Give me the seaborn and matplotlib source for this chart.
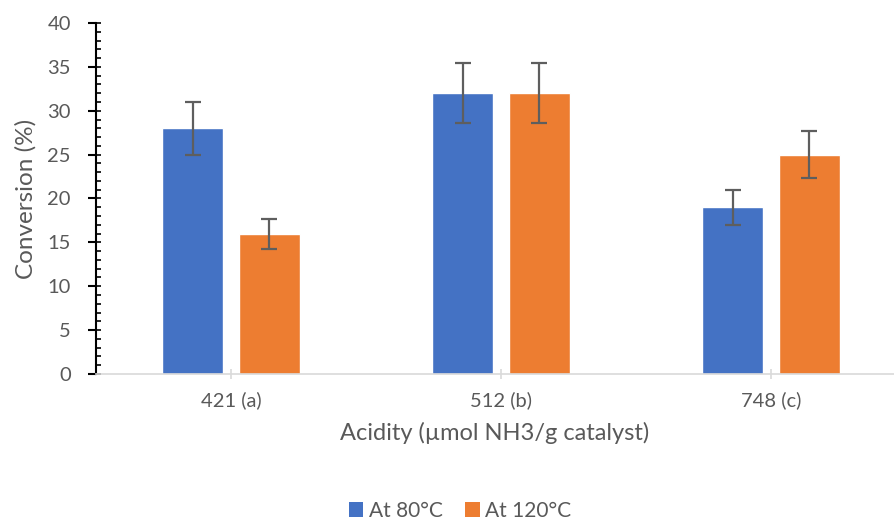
import numpy as np
import pandas as pd
import matplotlib
matplotlib.use("Agg")
import matplotlib.pyplot as plt
from matplotlib.ticker import MultipleLocator
from matplotlib.patches import Patch
import seaborn as sns

categories = ["421 (a)", "512 (b)", "748 (c)"]
series = ["At 80°C", "At 120°C"]
conv_80 = [28, 32, 19]
conv_120 = [16, 32, 25]
err_80 = [3.0, 3.4, 2.0]
err_120 = [1.7, 3.4, 2.7]

colors = ["#4472C4", "#ED7D31"]
txt = "#595959"

sns.set_theme(style="white")
plt.rcParams["font.family"] = ["Lato", "DejaVu Sans"]

df = pd.DataFrame({
    "cat": categories * 2,
    "series": [series[0]] * 3 + [series[1]] * 3,
    "val": conv_80 + conv_120,
    "err": err_80 + err_120,
})

W, H = 894, 522
fig = plt.figure(figsize=(W / 100, H / 100), dpi=100)
left, right = 96, 894
top, bottom = 23, 374
ax = fig.add_axes([left / W, (H - bottom) / H, (right - left) / W, (bottom - top) / H])

sns.barplot(data=df, x="cat", y="val", hue="series", order=categories,
            hue_order=series, palette=colors, width=0.570, gap=0.207,
            errorbar=None, saturation=1, ax=ax, legend=False)

# error bars at bar centres
for s_i, s in enumerate(series):
    cont = ax.containers[s_i]
    sub = df[df.series == s].set_index("cat").loc[categories]
    xs = [p.get_x() + p.get_width() / 2 for p in cont.patches]
    ax.errorbar(xs, sub["val"].values, yerr=sub["err"].values, fmt="none",
                ecolor="#5E5E5E", elinewidth=1.6, capsize=6, capthick=1.6, zorder=5)

ax.set_xlim(-0.5, -0.5 + (right - left) / 270)
ax.set_ylim(0, 40)
ax.yaxis.set_major_locator(MultipleLocator(5))
ax.yaxis.set_minor_locator(MultipleLocator(1))
ax.yaxis.remove_overlapping_locs = False

for sp in ["top", "right"]:
    ax.spines[sp].set_visible(False)
ax.spines["left"].set_color("black")
ax.spines["left"].set_linewidth(1.5)
ax.spines["bottom"].set_color("#D9D9D9")
ax.spines["bottom"].set_linewidth(1.2)

ax.tick_params(axis="y", which="major", direction="out", length=6, width=1.5,
               color="black", labelsize=14.5, labelcolor=txt, pad=12, left=True)
ax.tick_params(axis="y", which="minor", direction="in", length=3.5, width=1.2,
               color="black", left=True)
ax.tick_params(axis="x", which="major", direction="inout", length=7, width=1.2,
               color="#D9D9D9", labelsize=14.5, labelcolor=txt, pad=9, bottom=True)

ax.set_ylabel("Conversion (%)", fontsize=17.5, color=txt, labelpad=8)
ax.set_xlabel("Acidity (µmol NH3/g catalyst)", fontsize=17, color=txt, labelpad=9)
ax.grid(False)

handles = [Patch(facecolor=c, edgecolor="none") for c in colors]
fig.legend(handles, series, loc="center", bbox_to_anchor=((460) / W, (H - 511) / H),
           ncol=2, frameon=False, fontsize=15, labelcolor=txt,
           handlelength=0.7, handleheight=0.7, handletextpad=0.25, columnspacing=1.1)

fig.savefig("out.png", dpi=100)
